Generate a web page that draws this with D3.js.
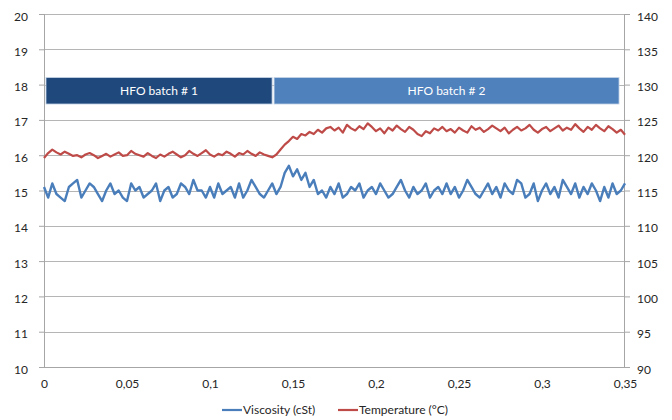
<!DOCTYPE html>
<html>
<head>
<meta charset="utf-8">
<script src="https://cdn.jsdelivr.net/npm/d3@7"></script>
<style>
  body { margin: 0; background: #fff; }
  svg text { font-family: "Lato", "Open Sans", sans-serif; }
  .axis path, .axis line { stroke: #a6a6a6; }
  .axis text { fill: #262626; font-size: 12px; }
</style>
</head>
<body>
<svg id="chart"></svg>
<script>
// sample step along x (same for both series)
var xStep = 0.0025;

// viscosity, cSt (left axis)
var viscosity = [
  15.1, 14.8, 15.2, 14.9, 14.8, 14.7, 15.1, 15.2, 15.3, 14.8, 15.0, 15.2, 15.1, 14.9, 14.7, 15.0, 15.2, 14.9, 15.0, 14.8,
  14.7, 15.2, 15.0, 15.1, 14.8, 14.9, 15.0, 15.2, 14.7, 15.0, 15.1, 14.8, 14.9, 15.2, 15.1, 14.9, 15.3, 15.0, 15.0, 14.8,
  15.1, 14.8, 15.2, 14.9, 15.0, 15.1, 14.8, 15.2, 14.8, 15.0, 15.3, 15.1, 14.9, 14.8, 15.0, 15.2,
  14.9, 15.1, 15.5, 15.7, 15.4, 15.6, 15.3, 15.5, 15.1, 15.3, 14.9, 15.0, 14.8, 15.1,
  14.9, 15.2, 14.8, 14.9, 15.1, 15.0, 15.2, 14.8, 15.0, 15.1,
  14.9, 15.2, 15.0, 14.8, 14.9, 15.1, 15.3, 15.0, 14.8, 15.1,
  14.9, 15.0, 15.2, 14.8, 15.0, 15.1, 14.9, 15.2, 14.9, 15.1,
  14.8, 15.0, 15.3, 15.1, 14.9, 14.8, 15.0, 15.2, 14.9, 15.1,
  14.8, 15.2, 15.0, 14.9, 15.3, 15.2, 14.8, 14.9, 15.2, 14.7,
  15.0, 15.2, 14.9, 15.1, 14.8, 15.3, 15.1, 14.9, 15.2, 14.8,
  15.1, 14.9, 15.2, 15.0, 14.7, 15.1, 14.8, 15.2, 14.9, 15.0, 15.2
];

// temperature, °C (right axis)
var temperature = [
  119.6, 120.3, 120.8, 120.4, 120.1, 120.5, 120.2, 119.9, 120.0, 119.7, 120.1, 120.3, 120.0, 119.6, 119.9, 120.2, 119.8, 120.1, 120.4, 119.9,
  120.0, 120.6, 120.2, 120.0, 119.8, 120.3, 119.9, 119.6, 120.1, 119.8, 120.2, 120.5, 120.1, 119.7, 120.0, 120.6, 120.2, 119.9, 120.3, 120.7,
  120.1, 119.8, 120.2, 120.0, 120.5, 120.2, 119.8, 120.3, 120.1, 120.6, 120.2, 119.9, 120.4, 120.1, 119.9, 119.7,
  120.1, 120.8, 121.5, 122.0, 122.6, 122.3, 123.0, 122.8, 123.3, 123.0, 123.6, 123.2, 123.8, 124.0,
  123.5, 123.9, 123.2, 124.3, 123.8, 123.5, 124.1, 123.7, 124.5, 124.0,
  123.4, 123.8, 123.1, 123.9, 123.5, 124.2, 123.7, 123.3, 124.0, 123.6,
  123.0, 122.7, 123.4, 123.1, 123.8, 123.5, 124.0, 123.4, 123.7, 123.2,
  123.9, 123.5, 123.2, 124.1, 123.6, 123.9, 123.3, 123.7, 124.2, 123.8,
  123.4, 123.9, 123.1, 123.6, 124.0, 123.5, 123.8, 124.3, 123.6, 123.2,
  123.7, 124.0, 123.4, 123.8, 124.2, 123.5, 123.9, 123.6, 124.4, 123.8,
  123.3, 124.0, 123.6, 124.3, 123.8, 123.4, 124.1, 123.7, 123.2, 123.6, 122.9
];

// batch bands, in data units of the left axis
var batchLabels = ["HFO batch # 1", "HFO batch # 2"];
var batchStart = [0.0012, 0.1386];
var batchEnd = [0.1374, 0.3464];
var batchLow = 17.45, batchHigh = 18.2;

var xTicks = [0, 0.05, 0.1, 0.15, 0.2, 0.25, 0.3, 0.35];
var leftTicks = [10, 11, 12, 13, 14, 15, 16, 17, 18, 19, 20];
var rightTicks = [90, 95, 100, 105, 110, 115, 120, 125, 130, 135, 140];
var seriesNames = ["Viscosity (cSt)", "Temperature (°C)"];

var blue = "#4a7ebb", red = "#be4b48";

var W = 672, H = 420;
var margin = {top: 14, right: 47, bottom: 53, left: 44},
  width = W - margin.left - margin.right,
  height = H - margin.top - margin.bottom;

var x = d3.scaleLinear().domain([0, 0.35]).range([0, width]);
var yL = d3.scaleLinear().domain([10, 20]).range([height, 0]);
var yR = d3.scaleLinear().domain([90, 140]).range([height, 0]);

var fmt = function(d) { return String(+d.toFixed(2)).replace(".", ","); };

var svg = d3.select("#chart").attr("width", W).attr("height", H);
var g = svg.append("g").attr("transform", "translate(" + margin.left + "," + margin.top + ")");

// gridlines
g.selectAll("line.grid")
  .data(leftTicks)
  .enter().append("line")
  .attr("class", "grid")
  .attr("x1", 0).attr("x2", width)
  .attr("y1", function(d) { return Math.round(yL(d)) + 0.5; })
  .attr("y2", function(d) { return Math.round(yL(d)) + 0.5; })
  .style("stroke", "#b5b5b5");

// axes
var la = g.append("g").attr("class", "axis")
  .call(d3.axisLeft(yL).tickValues(leftTicks).tickSize(5).tickPadding(11));
var ra = g.append("g").attr("class", "axis")
  .attr("transform", "translate(" + width + ",0)")
  .call(d3.axisRight(yR).tickValues(rightTicks).tickSize(5).tickPadding(7));
var xa = g.append("g").attr("class", "axis")
  .attr("transform", "translate(0," + height + ")")
  .call(d3.axisBottom(x).tickValues(xTicks).tickSize(0).tickPadding(12).tickFormat(fmt));
la.select(".domain").attr("d", "M0.5,0V" + height);
ra.select(".domain").attr("d", "M-0.5,0V" + height);
xa.select(".domain").attr("d", "M0," + 0.5 + "H" + width);
la.selectAll("text").attr("dy", "0.5em");
ra.selectAll("text").attr("dy", "0.5em");

// batch bands
var bandColors = ["#1f497d", "#4f81bd"];
var bands = g.selectAll("g.band")
  .data(batchLabels)
  .enter().append("g").attr("class", "band");
bands.append("rect")
  .attr("x", function(d, i) { return x(batchStart[i]); })
  .attr("width", function(d, i) { return x(batchEnd[i]) - x(batchStart[i]); })
  .attr("y", yL(batchHigh))
  .attr("height", yL(batchLow) - yL(batchHigh))
  .style("fill", function(d, i) { return bandColors[i]; })
  .style("stroke", "#c6d4e6").style("stroke-width", 0.8);
bands.append("text")
  .attr("x", function(d, i) { return (x(batchStart[i]) + x(batchEnd[i])) / 2; })
  .attr("y", (yL(batchLow) + yL(batchHigh)) / 2)
  .attr("dy", "0.35em")
  .attr("text-anchor", "middle")
  .style("fill", "#fff").style("font-size", "12px")
  .text(function(d) { return d; });

// series lines
var lineL = d3.line()
  .x(function(d, i) { return x(i * xStep); })
  .y(function(d) { return yL(d); });
var lineR = d3.line()
  .x(function(d, i) { return x(i * xStep); })
  .y(function(d) { return yR(d); });

g.append("path").datum(temperature)
  .attr("d", lineR)
  .style("fill", "none").style("stroke", red).style("stroke-width", 2.2)
  .style("stroke-linejoin", "round");
g.append("path").datum(viscosity)
  .attr("d", lineL)
  .style("fill", "none").style("stroke", blue).style("stroke-width", 2.4)
  .style("stroke-linejoin", "round");

// legend
var legend = svg.append("g").attr("transform", "translate(222,410)");
var legX = [0, 116];
var leg = legend.selectAll("g")
  .data(seriesNames)
  .enter().append("g")
  .attr("transform", function(d, i) { return "translate(" + legX[i] + ",0)"; });
leg.append("line")
  .attr("x1", 0).attr("x2", 20).attr("y1", 0).attr("y2", 0)
  .style("stroke", function(d, i) { return i ? red : blue; })
  .style("stroke-width", 2.2);
leg.append("text")
  .attr("x", 21).attr("dy", "0.35em")
  .style("font-size", "12px").style("fill", "#262626")
  .text(function(d) { return d; });
</script>
</body>
</html>
